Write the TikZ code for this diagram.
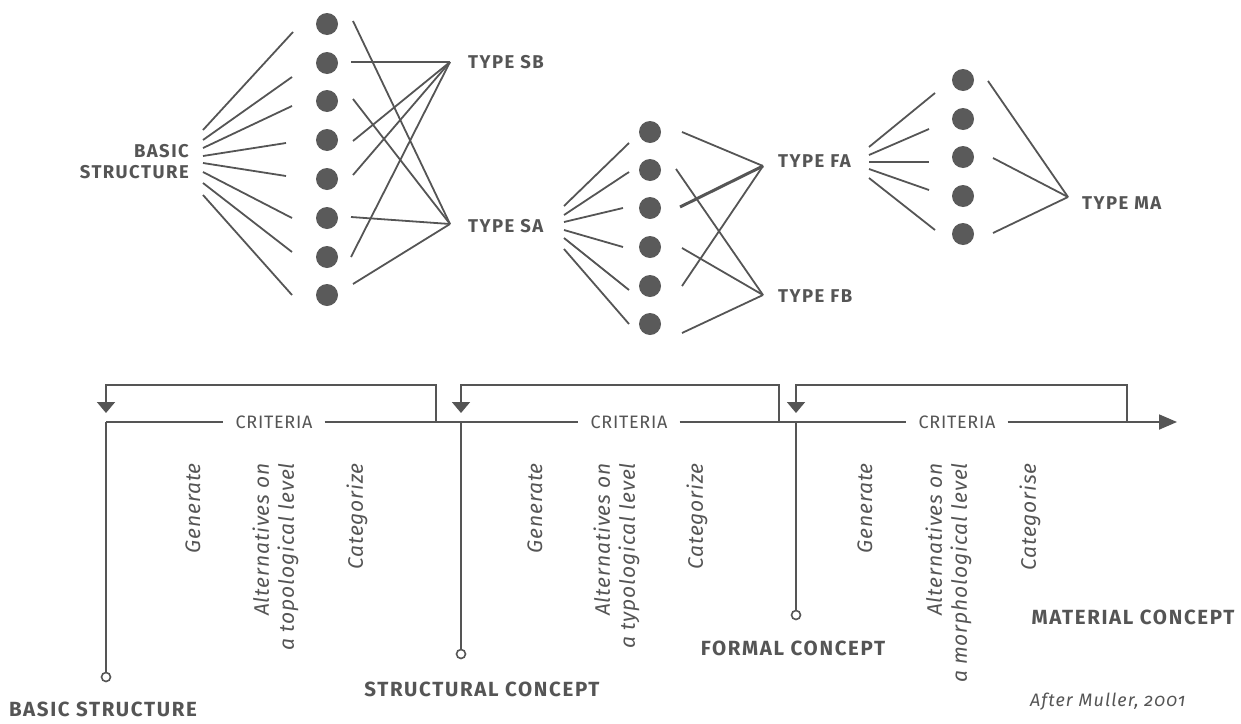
\documentclass[tikz,border=0pt]{standalone}
\usepackage{fontspec}
\setmainfont{Fira Sans}
\newfontfamily\toplabfont[LetterSpace=8]{Fira Sans}
\newfontfamily\botlabfont[LetterSpace=8]{Fira Sans}
\newfontfamily\itfont[LetterSpace=4]{Fira Sans}
\newfontfamily\critfont[LetterSpace=4]{Fira Sans}
\newfontfamily\srcfont[LetterSpace=6,Numbers=OldStyle]{Fira Sans}
\usetikzlibrary{arrows.meta}
\definecolor{ink}{HTML}{555555}
\definecolor{dotc}{HTML}{5A5A5A}
\tikzset{
  ln/.style={draw=ink, line width=1.8pt},
  thickln/.style={draw=ink, line width=3pt},
  dotn/.style={circle, fill=dotc, minimum size=22pt, inner sep=0pt},
  typelab/.style={text=ink, font=\toplabfont\bfseries\fontsize{18.5}{21}\selectfont, inner sep=0pt},
  botlab/.style={text=ink, font=\botlabfont\bfseries\fontsize{20.5}{22}\selectfont, inner sep=0pt},
  rotlab/.style={rotate=90, anchor=east, align=right, text=ink, inner sep=0pt,
    font=\itfont\itshape\fontsize{21}{25}\selectfont},
  crit/.style={text=ink, font=\critfont\fontsize{18}{20}\selectfont, inner xsep=12pt, inner ysep=0pt},
  endc/.style={circle, draw=ink, fill=white, line width=1.6pt, minimum size=9pt, inner sep=0pt},
  downtip/.style={-{Triangle[length=11pt,width=18pt]}},
}
\begin{document}
\begin{tikzpicture}[x=1pt,y=-1pt]
\useasboundingbox (0,0) rectangle (1241,723);

% ---------- labels (top) ----------
\node[typelab, align=right, anchor=east] (bs) at (189,162) {BASIC\\STRUCTURE};
\node[typelab, anchor=west] (tsb) at (468,62) {TYPE SB};
\node[typelab, anchor=west] (tsa) at (468,226) {TYPE SA};
\node[typelab, anchor=west] (tfa) at (778,161) {TYPE FA};
\node[typelab, anchor=west] (tfb) at (778,296) {TYPE FB};
\node[typelab, anchor=west] (tma) at (1082,203) {TYPE MA};

\coordinate (hubSB) at (450,62);
\coordinate (hubSA) at (450,224);
\coordinate (hubFA) at (763,166);
\coordinate (hubFB) at (763,295);
\coordinate (hubMA) at (1068,197);

% ---------- dots ----------
\foreach \y [count=\i] in {24,63,101,140,179,218,257,295}
  \node[dotn] (L\i) at (327,\y) {};
\foreach \y [count=\i] in {132,170,208,247,286,324}
  \node[dotn] (M\i) at (650,\y) {};
\foreach \y [count=\i] in {80,119,157,196,234}
  \node[dotn] (R\i) at (963,\y) {};

% ---------- fan from BASIC STRUCTURE ----------
\foreach \ya/\xb/\yb [count=\i] in {130/293/32,140/292/77,148/292/106,156/286/143,163/286/176,172/292/218,183/292/252,195/292/295}{
  \coordinate (bsA\i) at (203,\ya);
  \coordinate (bsB\i) at (\xb,\yb);
  \draw[ln] (bsA\i) -- (bsB\i);
}

% ---------- left dots to SB / SA ----------
\foreach \x/\y/\h [count=\i] in {353/21/hubSA,351/62/hubSB,353/99/hubSA,353/141/hubSB,353/175/hubSB,351/217/hubSA,351/257/hubSB,353/284/hubSA}{
  \coordinate (lo\i) at (\x,\y);
  \draw[ln] (lo\i) -- (\h);
}

% ---------- fan from TYPE SA ----------
\foreach \ya/\xb/\yb [count=\i] in {206/629/143,215/629/172,222/623/208,230/623/247,238/629/290,249/629/324}{
  \coordinate (saA\i) at (564,\ya);
  \coordinate (saB\i) at (\xb,\yb);
  \draw[ln] (saA\i) -- (saB\i);
}

% ---------- middle dots to FA / FB ----------
\foreach \x/\y/\h [count=\i] in {682/132/hubFA,676/169/hubFB,682/248/hubFB,682/286/hubFA,682/333/hubFB}{
  \coordinate (mo\i) at (\x,\y);
  \draw[ln] (mo\i) -- (\h);
}
\coordinate (moT) at (680,207);
\draw[thickln] (moT) -- (hubFA);

% ---------- fan from TYPE FA ----------
\foreach \ya/\xb/\yb [count=\i] in {147/935/93,155/929/129,162/929/162,169/929/190,178/935/230}{
  \coordinate (faA\i) at (869,\ya);
  \coordinate (faB\i) at (\xb,\yb);
  \draw[ln] (faA\i) -- (faB\i);
}

% ---------- right dots to MA ----------
\foreach \x/\y [count=\i] in {988/81,993/158,993/233}{
  \coordinate (ro\i) at (\x,\y);
  \draw[ln] (ro\i) -- (hubMA);
}

% ---------- bottom process line ----------
\coordinate (m0) at (106,422);
\node[crit] (cr1) at (274,422) {CRITERIA};
\node[crit] (cr2) at (629,422) {CRITERIA};
\node[crit] (cr3) at (957,422) {CRITERIA};
\coordinate (mend) at (1177,422);
\draw[ln] (m0) -- (cr1.west);
\draw[ln] (cr1.east) -- (cr2.west);
\draw[ln] (cr2.east) -- (cr3.west);
\draw[ln, -{Triangle[length=18pt,width=15pt]}] (cr3.east) -- (mend);

% feedback brackets
\coordinate (k1) at (436,422); \coordinate (a1) at (106,413);
\coordinate (k2) at (779,422); \coordinate (a2) at (461,413);
\coordinate (k3) at (1127,422); \coordinate (a3) at (796,413);
\draw[ln, downtip] (k1) -- ++(0,-37) -| (a1);
\draw[ln, downtip] (k2) -- ++(0,-37) -| (a2);
\draw[ln, downtip] (k3) -- ++(0,-37) -| (a3);

% stage verticals
\coordinate (v1) at (106,422);
\coordinate (v2) at (461,422);
\coordinate (v3) at (796,422);
\node[endc] (c1) at (106,677) {};
\node[endc] (c2) at (461,654) {};
\node[endc] (c3) at (796,615) {};
\draw[ln] (v1) -- (c1.north);
\draw[ln] (v2) -- (c2.north);
\draw[ln] (v3) -- (c3.north);

% rotated criteria texts
\node[rotlab] (g1) at (193,463) {Generate};
\node[rotlab] (al1) at (275.5,463) {Alternatives on\\a topological level};
\node[rotlab] (ca1) at (357,463) {Categorize};
\node[rotlab] (g2) at (535,463) {Generate};
\node[rotlab] (al2) at (616.5,463) {Alternatives on\\a typological level};
\node[rotlab] (ca2) at (697,463) {Categorize};
\node[rotlab] (g3) at (865,463) {Generate};
\node[rotlab] (al3) at (948.5,463) {Alternatives on\\a morphological level};
\node[rotlab] (ca3) at (1030,463) {Categorise};

% stage labels
\node[botlab] (lb1) at (103,709) {BASIC STRUCTURE};
\node[botlab] (lb2) at (482,689) {STRUCTURAL CONCEPT};
\node[botlab] (lb3) at (793,648) {FORMAL CONCEPT};
\node[botlab] (lb4) at (1133,617) {MATERIAL CONCEPT};
\node[text=ink, inner sep=0pt, anchor=west, font=\srcfont\itshape\fontsize{18}{20}\selectfont] (src) at (1030,702) {After Muller, 2001};
\end{tikzpicture}
\end{document}
